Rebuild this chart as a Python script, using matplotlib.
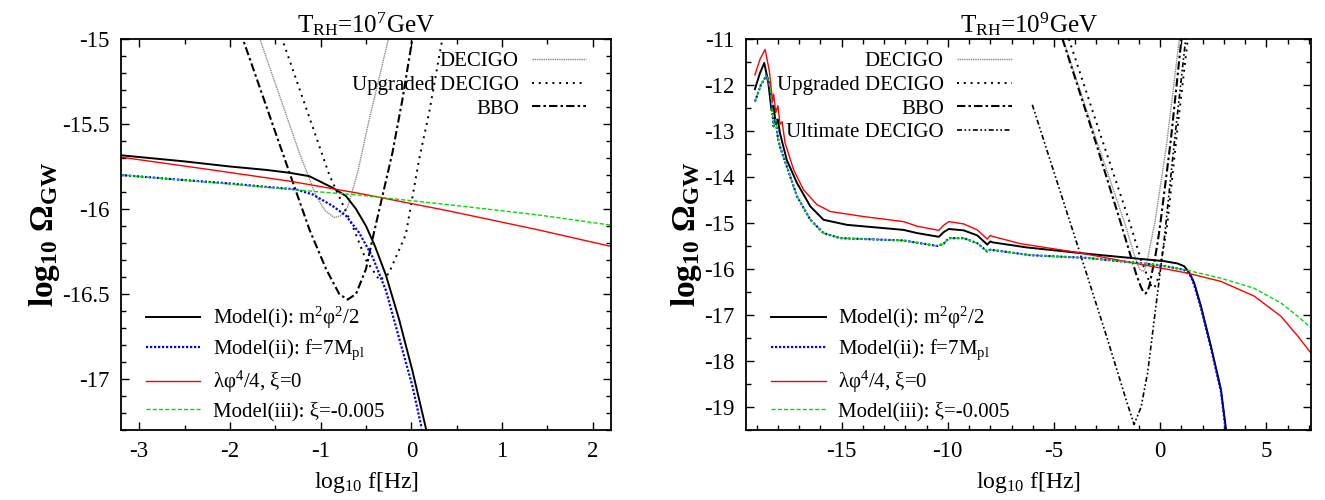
import matplotlib
matplotlib.use('Agg')
import matplotlib.pyplot as plt
from matplotlib.ticker import MultipleLocator, FormatStrFormatter
from matplotlib.lines import Line2D

plt.rcParams['font.family'] = ['Liberation Serif', 'DejaVu Serif']
plt.rcParams['mathtext.fontset'] = 'custom'
plt.rcParams['mathtext.rm'] = 'Liberation Serif'
plt.rcParams['mathtext.it'] = 'Liberation Serif:italic'
plt.rcParams['mathtext.bf'] = 'Liberation Serif:bold'
plt.rcParams['axes.unicode_minus'] = False

# ---- left panel: T_RH = 1e7 GeV ----
l_m1_x = [-3.2, -2.5, -2.0, -1.6, -1.343, -1.124, -0.868, -0.72, -0.61, -0.5, -0.4, -0.28, -0.135, 0.011, 0.16]
l_m1_y = [-15.684, -15.72, -15.75, -15.77, -15.787, -15.807, -15.875, -15.924, -16.0, -16.1, -16.22, -16.39, -16.65, -16.95, -17.29]
l_m2_x = [-3.2, -2.5, -2.0, -1.6, -1.27, -1.088, -0.868, -0.72, -0.575, -0.43, -0.28, -0.135, 0.011, 0.114]
l_m2_y = [-15.80, -15.83, -15.85, -15.87, -15.885, -15.914, -15.982, -16.04, -16.14, -16.28, -16.48, -16.76, -17.04, -17.29]
l_phi4_x = [-3.2, -2.2, -1.343, -0.575, 0.4, 1.367, 2.2]
l_phi4_y = [-15.695, -15.77, -15.836, -15.908, -16.01, -16.119, -16.22]
l_m3_x = [-3.2, -2.0, -1.0, -0.575, 0.5, 1.4, 2.2]
l_m3_y = [-15.80, -15.853, -15.9, -15.918, -15.98, -16.035, -16.095]

# ---- right panel: T_RH = 1e9 GeV ----
r_m1_x = [-19.08, -18.85, -18.64, -18.45, -18.3, -18.2, -18.1, -18.0, -17.9, -17.58, -17.1, -16.47, -15.85, -14.75,
          -12.08, -11.44, -10.42, -10.2, -9.95, -9.25, -8.61, -8.14, -8.0, -7.9, -6.3, -3.42, 0.19, 0.82, 1.13, 1.37,
          1.6, 1.92, 2.39, 2.86, 3.1]
r_m1_y = [-12.09, -11.75, -11.52, -11.95, -12.55, -12.45, -12.85, -12.75, -13.05, -13.63, -14.13, -14.64, -14.93, -15.04,
          -15.15, -15.22, -15.3, -15.2, -15.13, -15.16, -15.27, -15.47, -15.4, -15.42, -15.53, -15.67, -15.83, -15.88, -15.94, -16.08,
          -16.3, -16.81, -17.68, -18.62, -19.49]
r_m2_x = [-19.08, -18.8, -18.52, -18.35, -18.2, -18.1, -18.0, -17.9, -17.58, -17.1, -16.47, -15.85, -15.06, -12.08,
          -10.5, -10.2, -9.95, -9.25, -8.61, -8.14, -8.0, -6.1, -3.42, 0.03, 1.13, 1.45, 1.6, 1.92, 2.39, 2.86, 3.08]
r_m2_y = [-12.36, -12.0, -11.78, -12.1, -12.9, -12.75, -13.15, -13.34, -13.77, -14.42, -14.93, -15.22, -15.33, -15.38,
          -15.5, -15.45, -15.33, -15.33, -15.44, -15.62, -15.58, -15.7, -15.76, -15.92, -16.02, -16.16, -16.35, -16.85, -17.72, -18.66, -19.5]
r_phi4_x = [-19.08, -18.85, -18.6, -18.4, -18.25, -18.2, -18.1, -18.0, -17.9, -17.8, -17.66, -17.26, -16.79, -16.16, -15.53,
            -13.96, -12.08, -11.44, -10.42, -10.2, -9.95, -9.25, -8.61, -8.14, -8.0, -7.9, -6.57, -3.9, 0.03, 1.29, 2.86,
            4.43, 5.69, 6.48, 7.15]
r_phi4_y = [-11.78, -11.45, -11.225, -11.7, -12.35, -12.2, -12.6, -12.45, -12.85, -12.8, -13.26, -13.84, -14.28, -14.6, -14.75,
            -14.86, -14.97, -15.07, -15.16, -15.05, -14.97, -15.02, -15.15, -15.35, -15.27, -15.29, -15.45, -15.64, -15.98, -16.09, -16.27,
            -16.59, -17.03, -17.46, -17.86]
r_m3_x = [-19.08, -18.8, -18.52, -18.35, -18.2, -18.1, -18.0, -17.9, -17.58, -17.1, -16.47, -15.85, -15.06, -12.08,
          -10.5, -10.2, -9.95, -9.25, -8.61, -8.14, -8.0, -6.1, -3.42, 0.03, 1.29, 2.86, 4.43, 5.69, 6.48, 7.15]
r_m3_y = [-12.36, -12.0, -11.78, -12.1, -12.9, -12.75, -13.15, -13.34, -13.77, -14.42, -14.93, -15.22, -15.33, -15.38,
          -15.5, -15.45, -15.33, -15.33, -15.44, -15.62, -15.58, -15.7, -15.76, -15.92, -16.03, -16.2, -16.42, -16.74, -17.03, -17.3]

# ---- detector sensitivity curves (shared by both panels) ----
decigo_x = [-4.57, -3.0, -1.67, -1.234, -1.05, -0.95, -0.85, -0.78, -0.703, -0.593, -0.465, -0.253, 0.3, 0.9]
decigo_y = [-11.0, -13.2, -15.0, -15.67, -15.924, -16.01, -16.05, -16.04, -15.99, -15.787, -15.475, -15.0, -13.3, -11.0]
updecigo_x = [-4.3, -2.8, -1.424, -0.904, -0.648, -0.5, -0.35, -0.25, -0.061, 0.085, 0.195, 0.341, 0.8, 1.3]
updecigo_y = [-11.0, -13.1, -15.0, -15.80, -16.1, -16.3, -16.42, -16.38, -16.15, -15.709, -15.435, -15.0, -13.0, -11.0]
bbo_x = [-4.6, -3.2, -1.857, -1.343, -1.124, -0.94, -0.795, -0.703, -0.61, -0.5, -0.43, -0.319, -0.209, -0.099, 0.011, 0.5, 1.0]
bbo_y = [-11.0, -13.0, -15.0, -15.787, -16.12, -16.353, -16.5, -16.533, -16.5, -16.353, -16.18, -15.924, -15.67, -15.357, -15.0, -13.2, -11.0]
ultdecigo_x = [-6.02, -3.98, -2.5, -1.6, -1.23, -0.9, -0.59, 0.19, 0.7, 1.2]
ultdecigo_y = [-12.43, -15.36, -17.5, -18.85, -19.38, -19.0, -18.25, -15.36, -13.1, -11.0]

titles = [r'T$_{\mathrm{RH}}$=10$^{7}$GeV', r'T$_{\mathrm{RH}}$=10$^{9}$GeV']
model_labels = [r'Model(i): m$^{2}$φ$^{2}$/2', r'Model(ii): f=7M$_{\mathrm{pl}}$',
                r'λφ$^{4}$/4, ξ=0', r'Model(iii): ξ=-0.005']
det_names = ['DECIGO', 'Upgraded DECIGO', 'BBO', 'Ultimate DECIGO']

fig = plt.figure(figsize=(13.25, 5.0), dpi=100)
ax1 = fig.add_axes([121 / 1325, 1 - 430 / 500, 490 / 1325, 391 / 500])
ax2 = fig.add_axes([746 / 1325, 1 - 430 / 500, 565 / 1325, 391 / 500])

st_m1 = dict(color='black', lw=1.4, ls='-')
st_m2 = dict(color='#0000ff', lw=1.6, ls=(0, (1, 0.8)))
st_phi4 = dict(color='#ff0000', lw=1.0, ls='-')
st_m3 = dict(color='#00dd00', lw=1.0, ls=(0, (3, 1.5)))
st_dec = dict(color='#8a8a8a', lw=1.0, ls=(0, (1, 0.6)))
st_up = dict(color='black', lw=1.4, ls=(0, (1, 2.5)))
st_bbo = dict(color='black', lw=1.5, ls=(0, (4, 1.5, 1.2, 1.5)))
st_ult = dict(color='black', lw=1.2, ls=(0, (3, 1.5, 1, 1.5, 1, 1.5)))

# left
ax1.plot(decigo_x, decigo_y, **st_dec)
ax1.plot(updecigo_x, updecigo_y, **st_up)
ax1.plot(bbo_x, bbo_y, **st_bbo)
ax1.plot(l_m1_x, l_m1_y, **st_m1)
ax1.plot(l_m2_x, l_m2_y, **st_m2)
ax1.plot(l_phi4_x, l_phi4_y, **st_phi4)
ax1.plot(l_m3_x, l_m3_y, **st_m3)

# right
ax2.plot(decigo_x, decigo_y, **st_dec)
ax2.plot(updecigo_x, updecigo_y, **st_up)
ax2.plot(bbo_x, bbo_y, **st_bbo)
ax2.plot(ultdecigo_x, ultdecigo_y, **st_ult)
ax2.plot(r_m1_x, r_m1_y, **st_m1)
ax2.plot(r_m2_x, r_m2_y, **st_m2)
ax2.plot(r_phi4_x, r_phi4_y, **st_phi4)
ax2.plot(r_m3_x, r_m3_y, **st_m3)

ax1.set_xlim(-3.2, 2.2)
ax1.set_ylim(-17.3, -15)
ax1.xaxis.set_major_locator(MultipleLocator(1))
ax1.xaxis.set_minor_locator(MultipleLocator(0.5))
ax1.yaxis.set_major_locator(MultipleLocator(0.5))
ax1.yaxis.set_minor_locator(MultipleLocator(0.1))

ax2.set_xlim(-19.5, 7.1)
ax2.set_ylim(-19.5, -11)
ax2.xaxis.set_major_locator(MultipleLocator(5))
ax2.xaxis.set_minor_locator(MultipleLocator(1))
ax2.yaxis.set_major_locator(MultipleLocator(1))
ax2.yaxis.set_minor_locator(MultipleLocator(0.5))

model_styles = [st_m1, st_m2, st_phi4, st_m3]
det_styles = [st_dec, st_up, st_bbo, st_ult]

for ax, title, ndet, lx, bx in [(ax1, titles[0], 3, 0.950, 0.051), (ax2, titles[1], 4, 0.470, 0.045)]:
    ax.set_title(title, fontsize=18, pad=5)
    ax.set_xlabel(r'log$_{10}$ f[Hz]', fontsize=17, labelpad=6)
    ax.set_ylabel(r'$\mathbf{log_{10}}$ $\mathbf{Ω_{GW}}$', fontsize=24, labelpad=0)
    ax.xaxis.set_major_formatter(FormatStrFormatter('%g'))
    ax.yaxis.set_major_formatter(FormatStrFormatter('%g'))
    ax.tick_params(which='both', direction='in', top=True, right=True, labelsize=16.5, width=1.0)
    ax.tick_params(which='major', length=6, pad=8)
    ax.tick_params(which='minor', length=3.5)
    for s in ax.spines.values():
        s.set_linewidth(1.3)
    h_det = [Line2D([], [], **det_styles[i]) for i in range(ndet)]
    leg = ax.legend(h_det, det_names[:ndet], loc='upper right', bbox_to_anchor=(lx, 0.968),
                    frameon=False, markerfirst=False, fontsize=15, handlelength=2.6,
                    handletextpad=0.65, labelspacing=0.2, borderaxespad=0.0, borderpad=0.0)
    ax.add_artist(leg)
    h_mod = [Line2D([], [], **st) for st in model_styles]
    ax.legend(h_mod, model_labels, loc='lower left', bbox_to_anchor=(bx, 0.022),
              frameon=False, fontsize=15, handlelength=2.6, handletextpad=0.6,
              labelspacing=0.32, borderaxespad=0.0, borderpad=0.0)

fig.savefig('out.png', dpi=100)
